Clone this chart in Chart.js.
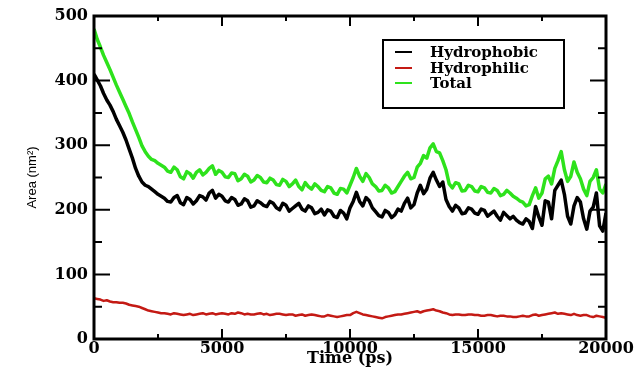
<!DOCTYPE html>
<html>
<head>
<meta charset="utf-8">
<script src="https://cdn.jsdelivr.net/npm/chart.js@4/dist/chart.umd.min.js"></script>
<style>
  html, body { margin: 0; padding: 0; background: #fff; }
  #wrap { width: 637px; height: 367px; }
</style>
</head>
<body>
<div id="wrap"><canvas id="myChart" width="637" height="367"></canvas></div>
<script>
// time in ps, one row = 1250 ps
var times = [
  0, 125, 250, 375, 500, 625, 750, 875, 1000, 1125,
  1250, 1375, 1500, 1625, 1750, 1875, 2000, 2125, 2250, 2375,
  2500, 2625, 2750, 2875, 3000, 3125, 3250, 3375, 3500, 3625,
  3750, 3875, 4000, 4125, 4250, 4375, 4500, 4625, 4750, 4875,
  5000, 5125, 5250, 5375, 5500, 5625, 5750, 5875, 6000, 6125,
  6250, 6375, 6500, 6625, 6750, 6875, 7000, 7125, 7250, 7375,
  7500, 7625, 7750, 7875, 8000, 8125, 8250, 8375, 8500, 8625,
  8750, 8875, 9000, 9125, 9250, 9375, 9500, 9625, 9750, 9875,
  10000, 10125, 10250, 10375, 10500, 10625, 10750, 10875, 11000, 11125,
  11250, 11375, 11500, 11625, 11750, 11875, 12000, 12125, 12250, 12375,
  12500, 12625, 12750, 12875, 13000, 13125, 13250, 13375, 13500, 13625,
  13750, 13875, 14000, 14125, 14250, 14375, 14500, 14625, 14750, 14875,
  15000, 15125, 15250, 15375, 15500, 15625, 15750, 15875, 16000, 16125,
  16250, 16375, 16500, 16625, 16750, 16875, 17000, 17125, 17250, 17375,
  17500, 17625, 17750, 17875, 18000, 18125, 18250, 18375, 18500, 18625,
  18750, 18875, 19000, 19125, 19250, 19375, 19500, 19625, 19750, 19875,
  20000];

var hydrophobic = [
  410, 401, 392, 380, 370, 362, 352, 340, 330, 320,
  308, 294, 280, 264, 252, 243, 238, 236, 232, 228,
  224, 221, 218, 213, 212, 219, 222, 211, 208, 219,
  216, 209, 214, 222, 220, 215, 226, 230, 218, 224,
  221, 214, 212, 219, 216, 207, 209, 217, 214, 204,
  206, 214, 211, 207, 205, 213, 210, 203, 200, 210,
  207, 198, 202, 206, 210, 201, 198, 206, 203, 194,
  196, 201, 192, 200, 198, 190, 188, 199, 195, 186,
  203, 213, 227, 213, 206, 219, 214, 203, 197, 191,
  189, 199, 196, 188, 192, 201, 198, 210, 218, 203,
  208, 226, 238, 225, 232, 249, 258, 246, 236, 243,
  216, 205, 198, 207, 203, 194, 195, 203, 201, 195,
  193, 201, 199, 190, 194, 198, 190, 184, 196, 191,
  186, 190, 184, 180, 178, 186, 182, 171, 205, 189,
  176, 214, 212, 186, 230, 238, 246, 224, 190, 178,
  206, 219, 212, 186, 170, 198, 204, 226, 175, 167,
  195];

var hydrophilic = [
  63, 62, 61, 59, 60, 58, 57, 57, 56, 56,
  55, 53, 52, 51, 50, 48, 46, 44, 43, 42,
  41, 40, 40, 39, 38, 40, 39, 38, 37, 38,
  39, 37, 38, 39, 40, 38, 39, 40, 38, 39,
  40, 39, 38, 40, 39, 41, 40, 38, 39, 38,
  38, 39, 40, 38, 39, 37, 38, 39, 39, 38,
  37, 38, 38, 36, 37, 38, 36, 37, 38, 37,
  36, 35, 35, 37, 36, 35, 34, 35, 36, 37,
  37, 40, 42, 40, 38, 37, 36, 35, 34, 33,
  32, 34, 35, 36, 37, 38, 38, 39, 40, 41,
  42, 43, 41, 43, 44, 45, 46, 44, 43, 41,
  40, 38, 37, 38, 38, 37, 37, 38, 38, 37,
  37, 36, 36, 37, 37, 36, 35, 36, 36, 35,
  35, 34, 34, 35, 36, 35, 35, 37, 38, 36,
  37, 38, 39, 40, 41, 39, 40, 39, 38, 37,
  39, 37, 36, 37, 37, 35, 34, 36, 35, 34,
  33];

var total = [
  480, 464, 452, 439, 428, 417, 405, 393, 382, 371,
  360, 349, 336, 324, 312, 299, 290, 283, 278, 276,
  272, 269, 266, 260, 258, 266, 262, 251, 248, 259,
  256, 249, 258, 262, 254, 258, 264, 268, 255, 261,
  258, 251, 250, 257, 256, 245, 248, 255, 252, 243,
  246, 253, 250, 243, 242, 249, 246, 239, 238, 247,
  244, 236, 240, 246, 236, 231, 242, 236, 232, 240,
  236, 230, 228, 236, 234, 226, 224, 233, 232, 226,
  238, 250, 264, 252, 244, 256, 250, 240, 236, 229,
  230, 238, 234, 226, 228, 236, 244, 252, 258, 248,
  250, 266, 272, 284, 280, 296, 302, 290, 288, 276,
  262, 240, 234, 242, 240, 229, 230, 238, 236, 229,
  228, 236, 234, 227, 226, 233, 230, 222, 224, 230,
  226, 221, 218, 214, 212, 206, 208, 222, 234, 218,
  226, 248, 252, 240, 264, 276, 290, 262, 244, 252,
  274, 258, 248, 232, 222, 244, 250, 262, 232, 226,
  240];

var seriesNames = ['Hydrophobic', 'Hydrophilic', 'Total'];

var serifBold = { family: "'DejaVu Serif', 'Liberation Serif', serif", weight: 'bold', size: 16, lineHeight: 1 };

// frame with inward ticks on all four sides, like the original xmgrace plot
var frameTicks = {
  id: 'frameTicks',
  afterDatasetsDraw: function (chart) {
    var ctx = chart.ctx, a = chart.chartArea, x = chart.scales.x, y = chart.scales.y;
    ctx.save();
    ctx.strokeStyle = '#000';
    ctx.lineWidth = 2;
    ctx.beginPath();
    for (var v = 0; v <= 20000; v += 2500) {
      var px = x.getPixelForValue(v);
      var len = (v % 5000 === 0) ? 10 : 5;
      ctx.moveTo(px, a.bottom); ctx.lineTo(px, a.bottom - len);
      ctx.moveTo(px, a.top); ctx.lineTo(px, a.top + len);
    }
    for (var w = 0; w <= 500; w += 50) {
      var py = y.getPixelForValue(w);
      var l2 = (w % 100 === 0) ? 16 : 8;
      ctx.moveTo(a.left, py); ctx.lineTo(a.left + l2, py);
      ctx.moveTo(a.right, py); ctx.lineTo(a.right - l2, py);
    }
    ctx.stroke();
    ctx.lineWidth = 3;
    ctx.strokeRect(a.left, a.top, a.right - a.left, a.bottom - a.top);
    ctx.restore();
  }
};

// boxed legend in the upper right
var boxLegend = {
  id: 'boxLegend',
  afterDraw: function (chart) {
    var ctx = chart.ctx;
    ctx.save();
    ctx.strokeStyle = '#000';
    ctx.lineWidth = 2;
    ctx.strokeRect(383, 40, 181, 68);
    ctx.font = "bold 15px 'DejaVu Serif', 'Liberation Serif', serif";
    ctx.textBaseline = 'middle';
    ctx.fillStyle = '#000';
    var rows = [52, 68, 83];
    chart.data.datasets.forEach(function (ds, i) {
      ctx.strokeStyle = ds.borderColor;
      ctx.lineWidth = 2;
      ctx.beginPath();
      ctx.moveTo(395, rows[i]); ctx.lineTo(412, rows[i]);
      ctx.stroke();
      ctx.fillText(ds.label, 430, rows[i] + 1);
    });
    ctx.restore();
  }
};

var ctx = document.getElementById('myChart').getContext('2d');
var myChart = new Chart(ctx, {
  type: 'line',
  data: {
    labels: times,
    datasets: [{
      label: seriesNames[0],
      borderColor: '#000000',
      borderWidth: 3.5,
      data: hydrophobic
    }, {
      label: seriesNames[1],
      borderColor: '#c41a14',
      borderWidth: 2.5,
      data: hydrophilic
    }, {
      label: seriesNames[2],
      borderColor: '#2ee21c',
      borderWidth: 3.5,
      data: total
    }]
  },
  options: {
    responsive: false,
    animation: false,
    layout: { padding: { top: 16, right: 31, left: 0, bottom: 0 } },
    elements: { point: { radius: 0 }, line: { tension: 0, borderJoinStyle: 'round' } },
    plugins: { legend: { display: false }, tooltip: { enabled: false } },
    scales: {
      x: {
        type: 'linear',
        min: 0, max: 20000,
        grid: { display: false, drawTicks: false },
        border: { display: false },
        ticks: {
          stepSize: 5000, padding: 2, color: '#000', maxRotation: 0,
          font: serifBold,
          callback: function (v) { return String(v); }
        },
        title: {
          display: true, text: 'Time (ps)', color: '#000',
          font: serifBold, padding: { top: -4, bottom: 0 }
        },
        afterFit: function (s) { s.height = 28; s.paddingLeft = 0; s.paddingRight = 0; }
      },
      y: {
        min: 0, max: 500,
        grid: { display: false, drawTicks: false },
        border: { display: false },
        ticks: {
          stepSize: 100, padding: 6, color: '#000',
          font: serifBold,
          callback: function (v) { return String(v); }
        },
        title: {
          display: true, text: 'Area (nm²)', color: '#000',
          font: { family: "'Liberation Sans Narrow', 'Liberation Sans', sans-serif", size: 13, lineHeight: 1.2 },
          padding: { top: 25, bottom: 0 }
        },
        afterFit: function (s) { s.width = 94; s.paddingTop = 0; s.paddingBottom = 0; }
      }
    }
  },
  plugins: [frameTicks, boxLegend]
});
</script>
</body>
</html>
